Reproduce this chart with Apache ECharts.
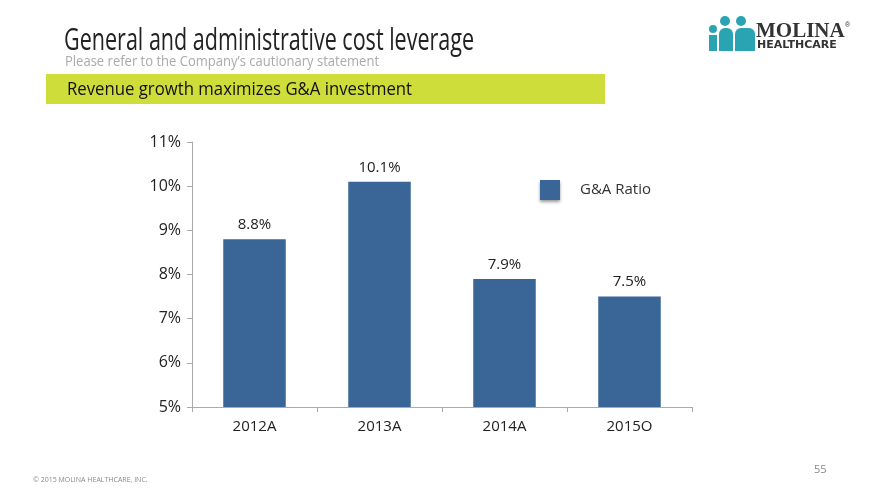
<!DOCTYPE html>
<html><head><meta charset="utf-8">
<script src="https://cdn.jsdelivr.net/npm/echarts@6/dist/echarts.min.js"></script>
<style>html,body{margin:0;padding:0;background:#fff}#c{width:880px;height:495px}</style>
</head><body><div id="c"></div>
<script>
var categories = ['2012A', '2013A', '2014A', '2015O'];
var gaRatio = [8.8, 10.1, 7.9, 7.5];
var seriesName = 'G&A Ratio';
var yMin = 5, yMax = 11, yStep = 1;

var chart = echarts.init(document.getElementById('c'));
var teal = '#2aa3b3';
chart.setOption({
  animation: false,
  backgroundColor: '#fff',
  grid: { left: 192, right: 188, top: 142, bottom: 88 },
  legend: {
    left: 540, top: 180, padding: 0, itemWidth: 20, itemHeight: 20,
    icon: 'rect',
    textStyle: { fontFamily: 'Open Sans', fontSize: 15, color: '#333', padding: [2, 0, 0, 15] },
    data: [{ name: seriesName, itemStyle: { shadowColor: 'rgba(0,0,0,0.4)', shadowBlur: 3, shadowOffsetY: 2 } }]
  },
  xAxis: {
    type: 'category', data: categories,
    axisLine: { lineStyle: { color: '#aaa' } },
    axisTick: { show: true, length: 5, lineStyle: { color: '#aaa' } },
    axisLabel: { fontFamily: 'Open Sans', fontSize: 15, color: '#222', margin: 12 }
  },
  yAxis: {
    type: 'value', min: yMin, max: yMax, interval: yStep,
    axisLine: { show: true, lineStyle: { color: '#aaa' } },
    axisTick: { show: true, length: 5, lineStyle: { color: '#aaa' } },
    splitLine: { show: false },
    axisLabel: { fontFamily: 'Open Sans', fontSize: 16, color: '#222', margin: 11, formatter: '{value}%' }
  },
  series: [{
    name: seriesName, type: 'bar', data: gaRatio, barWidth: '50%',
    itemStyle: { color: '#3a6697' },
    label: { show: true, position: 'top', distance: 7, fontFamily: 'Open Sans', fontSize: 15, color: '#222',
      formatter: function (p) { return p.value.toFixed(1) + '%'; } }
  }],
  graphic: [
    { type: 'text', x: 64, y: 26, scaleX: 0.695, style: { text: 'General and administrative cost leverage', font: '31px "Open Sans", sans-serif', fill: '#222' } },
    { type: 'text', x: 65, y: 55, scaleX: 0.93, style: { text: 'Please refer to the Company\u2019s cautionary statement', font: '14px "Open Sans", sans-serif', fill: '#aaa' } },
    { type: 'rect', shape: { x: 46, y: 74, width: 559, height: 30 }, style: { fill: '#cfdd3a' } },
    { type: 'text', x: 67, y: 81, scaleX: 0.93, style: { text: 'Revenue growth maximizes G&A investment', font: '18px "Open Sans", sans-serif', fill: '#111' } },
    // logo
    { type: 'circle', shape: { cx: 713, cy: 29, r: 4 }, style: { fill: teal } },
    { type: 'circle', shape: { cx: 725, cy: 21, r: 5 }, style: { fill: teal } },
    { type: 'circle', shape: { cx: 741, cy: 21, r: 5 }, style: { fill: teal } },
    { type: 'rect', shape: { x: 709, y: 35, width: 8, height: 16 }, style: { fill: teal } },
    { type: 'rect', shape: { x: 719, y: 28, width: 14, height: 23, r: [6, 6, 0, 0] }, style: { fill: teal } },
    { type: 'rect', shape: { x: 735, y: 28, width: 20, height: 23, r: [6, 6, 0, 0] }, style: { fill: teal } },
    { type: 'text', x: 756, y: 21, style: { text: 'MOLINA', font: 'bold 21px "Liberation Serif", serif', fill: '#333' } },
    { type: 'text', x: 845, y: 22, style: { text: '\u00ae', font: '7px sans-serif', fill: '#333' } },
    { type: 'text', x: 757, y: 40, style: { text: 'HEALTHCARE', font: 'bold 11px "DejaVu Sans", sans-serif', fill: '#333' } },
    // footer
    { type: 'text', x: 33, y: 476, style: { text: '\u00a9 2015 MOLINA HEALTHCARE, INC.', font: '7px "Open Sans", sans-serif', fill: '#888' } },
    { type: 'text', x: 814, y: 464, style: { text: '55', font: '11px "Open Sans", sans-serif', fill: '#888' } }
  ]
});
</script></body></html>
